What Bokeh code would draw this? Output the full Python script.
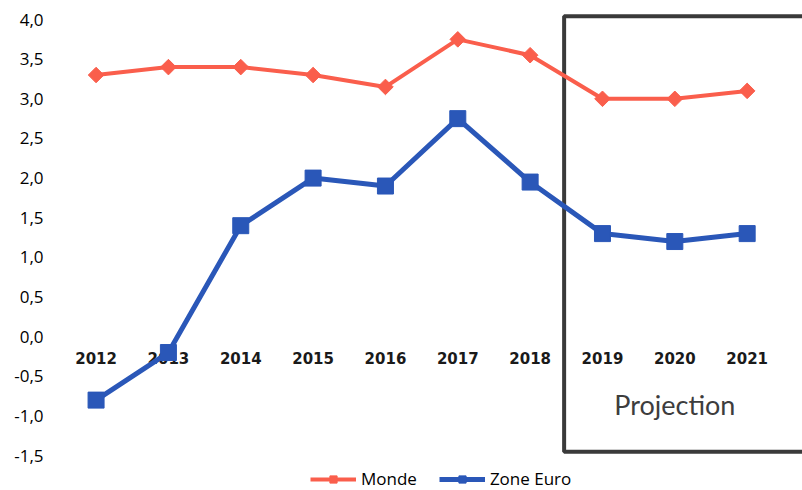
from bokeh.plotting import figure
from bokeh.models import (ColumnDataSource, FixedTicker, CustomJSTickFormatter,
                          BoxAnnotation, Label, Legend, LegendItem, Range1d)
from bokeh.core.properties import value
from bokeh.embed import file_html
from bokeh.resources import INLINE

# Croissance du PIB en volume (%), 2019-2021 en projection
years = [2012, 2013, 2014, 2015, 2016, 2017, 2018, 2019, 2020, 2021]
year_labels = [str(y) for y in years]
monde = [3.3, 3.4, 3.4, 3.3, 3.15, 3.75, 3.55, 3.0, 3.0, 3.1]
zone_euro = [-0.8, -0.2, 1.4, 2.0, 1.9, 2.75, 1.95, 1.3, 1.2, 1.3]
y_ticks = [-1.5, -1.0, -0.5, 0.0, 0.5, 1.0, 1.5, 2.0, 2.5, 3.0, 3.5, 4.0]
projection_start = 2018.47
projection_label = "Projection"

RED = "#FA5E4C"
BLUE = "#2A57B8"

p = figure(width=802, height=490, output_backend="svg", toolbar_location=None,
           x_range=Range1d(2011.37, 2021.765), y_range=Range1d(-1.94, 4.24),
           min_border_left=50, min_border_right=0, min_border_top=0,
           min_border_bottom=0)
p.outline_line_color = None
p.xgrid.visible = False
p.ygrid.visible = False
p.xaxis.visible = False

ya = p.yaxis[0]
ya.ticker = FixedTicker(ticks=y_ticks)
ya.formatter = CustomJSTickFormatter(code="return tick.toFixed(1).replace('.', ',');")
ya.axis_line_color = None
ya.major_tick_line_color = None
ya.minor_tick_line_color = None
ya.major_tick_out = 0
ya.major_label_standoff = 7
ya.major_label_text_font = "Open Sans"
ya.major_label_text_font_size = "17px"
ya.major_label_text_color = "#000000"

# Projection frame
box = BoxAnnotation(left=projection_start, right=2023, bottom=-1.45, top=4.04,
                    fill_color="#ffffff", fill_alpha=0.0,
                    line_color="#3a3a3a", line_alpha=1.0, line_width=4,
                    level="underlay")
p.add_layout(box)
p.add_layout(Label(x=2020, y=-0.86, text=projection_label, text_align="center",
                   text_baseline="middle", text_font="Lato", text_font_size="27px",
                   text_color="#3d3d3d"))

# Year labels along the zero line
src_years = ColumnDataSource(dict(x=years, y=[0] * len(years), t=year_labels))
p.text(x="x", y="y", text="t", source=src_years, text_align="center",
       text_baseline="middle", y_offset=21, text_font=value("DejaVu Sans"),
       text_font_style="bold", text_font_size="15px", text_color="#1a1a1a")

src = ColumnDataSource(dict(x=years, monde=monde, ze=zone_euro))
l1 = p.line("x", "monde", source=src, line_color=RED, line_width=4)
m1 = p.scatter("x", "monde", source=src, marker="square", angle=0.785398,
               size=11, fill_color=RED, line_color=RED)
l2 = p.line("x", "ze", source=src, line_color=BLUE, line_width=5)
m2 = p.scatter("x", "ze", source=src, marker="square", size=16,
               fill_color=BLUE, line_color=BLUE)

legend = Legend(items=[LegendItem(label="Monde", renderers=[l1, m1]),
                       LegendItem(label="Zone Euro", renderers=[l2, m2])],
                orientation="horizontal", location=(260, 0),
                background_fill_alpha=0, border_line_color=None,
                label_text_font="Open Sans", label_text_font_size="17px",
                label_text_color="#000000", glyph_width=46, glyph_height=18,
                label_standoff=5, spacing=22, padding=2, margin=0)
p.add_layout(legend)

open("out.html", "w").write(file_html(p, INLINE))
